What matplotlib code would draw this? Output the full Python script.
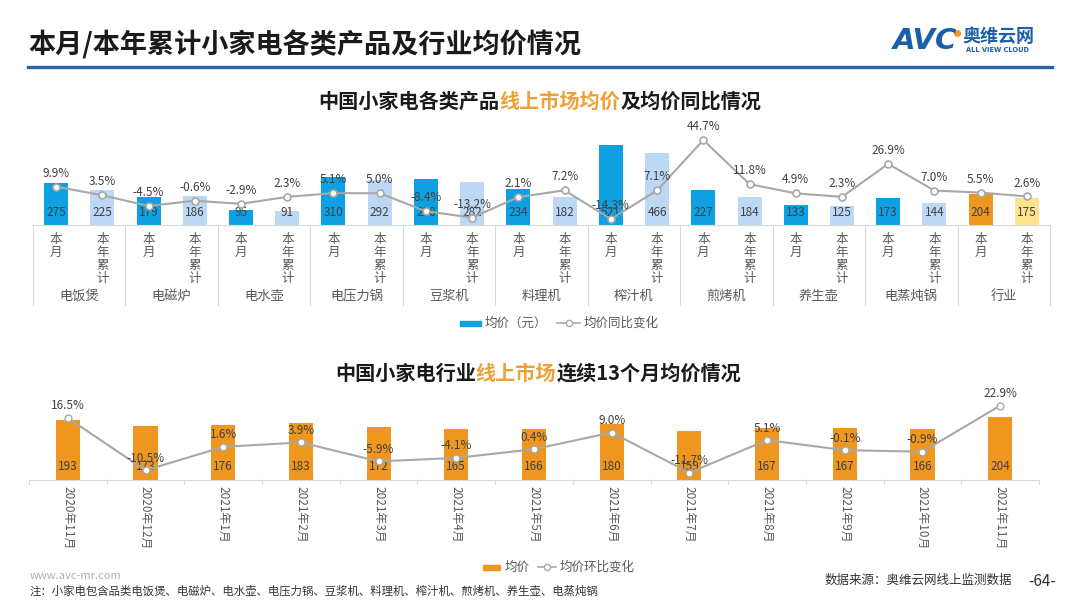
import matplotlib.pyplot as plt
import matplotlib.transforms as mtransforms
from matplotlib.lines import Line2D
from matplotlib.patches import Rectangle

plt.rcParams['font.family'] = ['Noto Sans CJK SC', 'DejaVu Sans']

# ── data ──────────────────────────────────────────────────────────────────
groups = ['电饭煲', '电磁炉', '电水壶', '电压力锅', '豆浆机', '料理机',
          '榨汁机', '煎烤机', '养生壶', '电蒸炖锅', '行业']
month_price = [275, 179, 95, 310, 298, 234, 521, 227, 133, 173, 204]
ytd_price = [225, 186, 91, 292, 282, 182, 466, 184, 125, 144, 175]
month_yoy = [9.9, -4.5, -2.9, 5.1, -8.4, 2.1, -14.3, 44.7, 4.9, 26.9, 5.5]
ytd_yoy = [3.5, -0.6, 2.3, 5.0, -13.2, 7.2, 7.1, 11.8, 2.3, 7.0, 2.6]
sub_labels = ['本\n月', '本\n年\n累\n计']

months = ['2020年11月', '2020年12月', '2021年1月', '2021年2月', '2021年3月',
          '2021年4月', '2021年5月', '2021年6月', '2021年7月', '2021年8月',
          '2021年9月', '2021年10月', '2021年11月']
avg_price = [193, 173, 176, 183, 172, 165, 166, 180, 159, 167, 167, 166, 204]
mom_change = [16.5, -10.5, 1.6, 3.9, -5.9, -4.1, 0.4, 9.0, -11.7, 5.1, -0.1, -0.9, 22.9]

# ── colours ───────────────────────────────────────────────────────────────
BLUE = '#0ea0e2'
LBLUE = '#bcd8f4'
ORANGE = '#ef961f'
LYELLOW = '#ffe38c'
LINE = '#a8a8a8'
TXT = '#404040'
GRAY = '#595959'
SEP = '#d9d9d9'
TITLE_OR = '#eea035'

W, H = 1080, 608
fig = plt.figure(figsize=(W / 100, H / 100), dpi=100)
fig.patch.set_facecolor('white')


def fx(px):
    return px / W


def fy(py):
    return 1 - py / H


def add_axes(left, top, right, bottom):
    return fig.add_axes([fx(left), fy(bottom), fx(right - left), (bottom - top) / H])


def rich_text(parts, cx, py, size):
    texts = [fig.text(0, fy(py), s, color=c, fontsize=size, weight='bold', va='center')
             for s, c in parts]
    r = fig.canvas.get_renderer()
    widths = [t.get_window_extent(r).width for t in texts]
    x = cx - sum(widths) / 2
    for t, w in zip(texts, widths):
        t.set_x(fx(x))
        x += w


# ── header ────────────────────────────────────────────────────────────────
fig.text(fx(28), fy(45), '本月/本年累计小家电各类产品及行业均价情况',
         fontsize=19.5, weight='bold', color='#1a1a1a', va='center')
fig.add_artist(Line2D([fx(28), fx(1052)], [fy(67), fy(67)], color='#2a64a8', lw=2.4))
fig.text(fx(893), fy(41), 'AVC', fontsize=21, weight='heavy', style='italic',
         color='#1b5faa', va='center', family='DejaVu Sans')
fig.add_artist(Line2D([fx(957)], [fy(33)], marker='o', ms=4, color='#f39a1e'))
fig.text(fx(962), fy(36), '奥维云网', fontsize=13, weight='bold', color='#1b5faa', va='center')
fig.text(fx(966), fy(50), 'ALL VIEW CLOUD', fontsize=4.8, weight='bold',
         color='#1b5faa', va='center', family='DejaVu Sans')

# ── top chart ─────────────────────────────────────────────────────────────
rich_text([('中国小家电各类产品', '#1a1a1a'), ('线上市场均价', TITLE_OR),
           ('及均价同比情况', '#1a1a1a')], 540, 101, 14.5)

ax = add_axes(33, 130, 1050, 225)
n = len(groups)
xs, prices, yoys, colors = [], [], [], []
for g in range(n):
    xs += [2 * g, 2 * g + 1]
    prices += [month_price[g], ytd_price[g]]
    yoys += [month_yoy[g], ytd_yoy[g]]
    colors += [ORANGE, LYELLOW] if groups[g] == '行业' else [BLUE, LBLUE]

ax.bar(xs, prices, width=0.52, color=colors, zorder=2)
ax.set_xlim(-0.5, 2 * n - 0.5)
ax.set_ylim(0, 617)
ax.axis('off')

ax2 = ax.twinx()
ax2.plot(xs, yoys, color=LINE, lw=1.5, marker='o', ms=5,
         mfc='white', mec=LINE, mew=1.2, zorder=3)
ax2.set_ylim(-18.7, 52.2)
ax2.axis('off')
for x, v in zip(xs, yoys):
    ax2.annotate(f'{v:.1f}%', (x, v), xytext=(0, 5), textcoords='offset points',
                 ha='center', va='bottom', fontsize=8.5, color=TXT)

tr = mtransforms.blended_transform_factory(ax.transData, fig.transFigure)
for x, p in zip(xs, prices):
    ax.text(x, fy(213), str(p), transform=tr, ha='center', va='center',
            fontsize=8.5, color=TXT, zorder=4)
    ax.text(x, fy(233), sub_labels[x % 2], transform=tr, ha='center', va='top',
            fontsize=9, color=GRAY, linespacing=1.0)
for g in range(n):
    ax.text(2 * g + 0.5, fy(296), groups[g], transform=tr, ha='center',
            va='center', fontsize=9.5, color=GRAY)
for g in range(n + 1):
    ax.add_artist(Line2D([2 * g - 0.5] * 2, [fy(225), fy(305)], transform=tr,
                         color=SEP, lw=0.8, clip_on=False))
ax.add_artist(Line2D([-0.5, 2 * n - 0.5], [fy(225)] * 2, transform=tr,
                     color=SEP, lw=0.8, clip_on=False))

# legend (top)
fig.add_artist(Rectangle((fx(460), fy(326)), fx(21), 5 / H, color=BLUE))
fig.text(fx(485), fy(323), '均价（元）', fontsize=9, color=GRAY, va='center')
fig.add_artist(Line2D([fx(557), fx(580)], [fy(323)] * 2, color=LINE, lw=1.2))
fig.add_artist(Line2D([fx(568.5)], [fy(323)], marker='o', ms=4.5,
                      mfc='white', mec=LINE, mew=1))
fig.text(fx(584), fy(323), '均价同比变化', fontsize=9, color=GRAY, va='center')

# ── bottom chart ──────────────────────────────────────────────────────────
rich_text([('中国小家电行业', '#1a1a1a'), ('线上市场', TITLE_OR),
           ('连续13个月均价情况', '#1a1a1a')], 538, 373, 14.5)

bx = add_axes(29, 400, 1039, 480)
m = len(months)
idx = list(range(m))
bx.bar(idx, avg_price, width=0.31, color=ORANGE, zorder=2)
bx.set_xlim(-0.5, m - 0.5)
bx.set_ylim(0, 258)
bx.axis('off')

bx2 = bx.twinx()
bx2.plot(idx, mom_change, color=LINE, lw=1.5, marker='o', ms=5,
         mfc='white', mec=LINE, mew=1.0, zorder=3)
bx2.set_ylim(-15.5, 25.8)
bx2.axis('off')
for x, v in zip(idx, mom_change):
    bx2.annotate(f'{v:.1f}%', (x, v), xytext=(0, 4), textcoords='offset points',
                 ha='center', va='bottom', fontsize=8.5, color=TXT)

trb = mtransforms.blended_transform_factory(bx.transData, fig.transFigure)
for x, p in zip(idx, avg_price):
    bx.text(x, fy(467), str(p), transform=trb, ha='center', va='center',
            fontsize=8.5, color=TXT, zorder=4)
    bx.text(x, fy(486), months[x], transform=trb, ha='center', va='top',
            rotation=-90, fontsize=8.5, color=GRAY)
bx.add_artist(Line2D([-0.5, m - 0.5], [fy(480)] * 2, transform=trb,
                     color=SEP, lw=0.8, clip_on=False))
for k in range(m + 1):
    bx.add_artist(Line2D([k - 0.5] * 2, [fy(480), fy(484)], transform=trb,
                         color=SEP, lw=0.8, clip_on=False))

# legend (bottom)
fig.add_artist(Rectangle((fx(483), fy(570)), fx(17), 5 / H, color=ORANGE))
fig.text(fx(505), fy(567), '均价', fontsize=9, color=GRAY, va='center')
fig.add_artist(Line2D([fx(538), fx(556)], [fy(567)] * 2, color=LINE, lw=1.2))
fig.add_artist(Line2D([fx(547)], [fy(567)], marker='o', ms=4.5,
                      mfc='white', mec=LINE, mew=1))
fig.text(fx(560), fy(567), '均价环比变化', fontsize=9, color=GRAY, va='center')

# ── footer ────────────────────────────────────────────────────────────────
fig.text(fx(30), fy(576), 'www.avc-mr.com', fontsize=8, color='#b0b0b0', va='center')
fig.text(fx(30), fy(591), '注：小家电包含品类电饭煲、电磁炉、电水壶、电压力锅、豆浆机、'
         '料理机、榨汁机、煎烤机、养生壶、电蒸炖锅', fontsize=8.2, color='#333333', va='center')
fig.text(fx(1012), fy(580), '数据来源：奥维云网线上监测数据', fontsize=9,
         color='#333333', va='center', ha='right')
fig.text(fx(1028), fy(581), '-64-', fontsize=11, color='#333333', va='center')

fig.savefig('out.png', dpi=100)
